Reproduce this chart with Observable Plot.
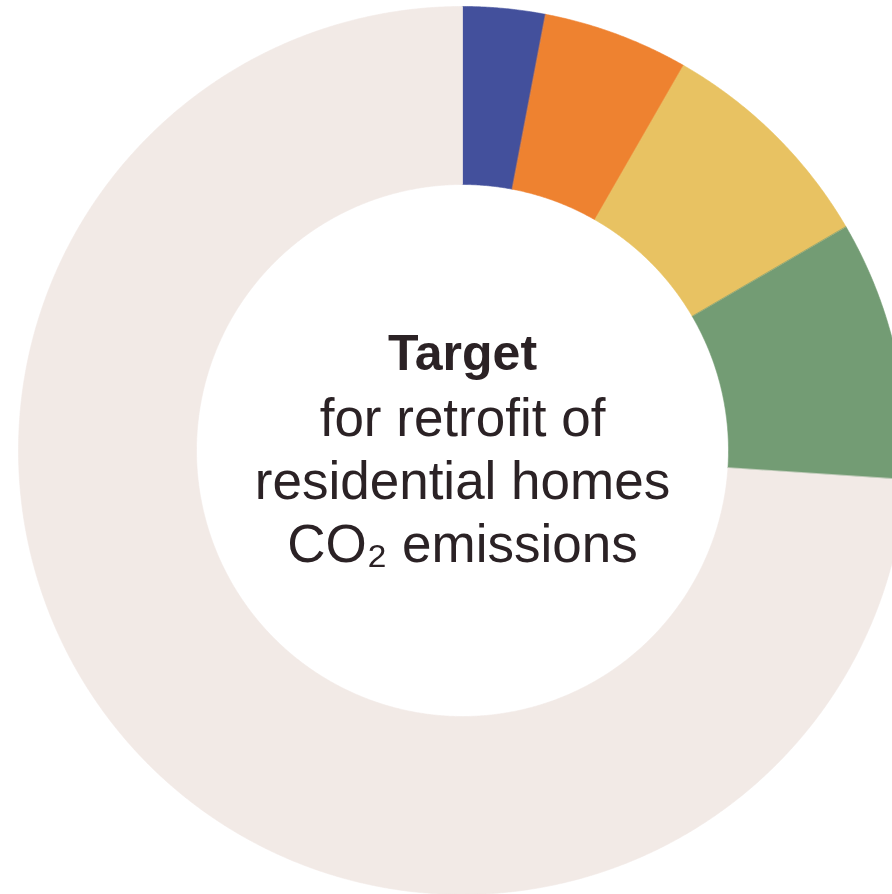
<!DOCTYPE html>
<html>
<head>
<meta charset="utf-8">
<script src="https://cdn.jsdelivr.net/npm/d3@7"></script>
<script src="https://cdn.jsdelivr.net/npm/@observablehq/plot@0.6"></script>
<style>
  html, body { margin: 0; padding: 0; background: #fff; overflow: hidden; }
  #chart svg { display: block; }
</style>
</head>
<body>
<div id="chart"></div>
<script>
// Donut segments, clockwise from 12 o'clock (share of total, %)
const categories = ["Segment A", "Segment B", "Segment C", "Segment D", "Remainder"];
const shares = [3.0, 5.3, 8.3, 9.45, 73.95];
const colors = ["#43509c", "#ee8230", "#e8c262", "#739c74", "#f2eae6"];

// Center label lines
const labelLines = ["Target", "for retrofit of", "residential homes", "CO₂ emissions"];
const labelWeights = ["bold", "normal", "normal", "normal"];

const innerRatio = 266 / 444;

// Build slice polygons in unit (data) space from the shares
const total = d3.sum(shares);
const pts = [];
let cum = 0;
categories.forEach((cat, i) => {
  const a0 = (cum / total) * 2 * Math.PI;
  cum += shares[i];
  const a1 = (cum / total) * 2 * Math.PI;
  const n = Math.max(8, Math.ceil((a1 - a0) / (Math.PI / 720)));
  for (let k = 0; k <= n; k++) {
    const a = a0 + (a1 - a0) * k / n;
    pts.push({cat, x: Math.sin(a), y: Math.cos(a)});
  }
  for (let k = n; k >= 0; k--) {
    const a = a0 + (a1 - a0) * k / n;
    pts.push({cat, x: innerRatio * Math.sin(a), y: innerRatio * Math.cos(a)});
  }
});

const labels = labelLines.map((t, i) => ({t, i, w: labelWeights[i]}));
const cx = 462, cy = 450, R = 444;

// baseline offsets relative to the donut centre
function baselineOffset(i) {
  return i === 0 ? -81 : 48 + (i - 2) * 63;
}

const chart = Plot.plot({
  width: 892,
  height: 894,
  margin: 0,
  style: {background: "#fff"},
  x: {domain: [-1, 1], range: [cx - R, cx + R], axis: null},
  y: {domain: [-1, 1], range: [cy + R, cy - R], axis: null},
  color: {domain: categories, range: colors},
  marks: [
    Plot.line(pts, {
      x: "x", y: "y", z: "cat",
      fill: "cat", stroke: "cat", strokeWidth: 0.6,
      curve: "linear-closed"
    }),
    ...labels.map(d => {
      const fs = d.i === 0 ? 50 : 53;
      return Plot.text([d], {
        x: () => 0, y: () => 0,
        text: "t",
        lineAnchor: "bottom",
        dy: baselineOffset(d.i),
        fontSize: fs,
        fontWeight: d.w,
        fontFamily: "Liberation Sans, Arial, sans-serif",
        fill: "#2b2225",
        textAnchor: "middle"
      });
    })
  ]
});
document.getElementById("chart").appendChild(chart);
</script>
</body>
</html>
